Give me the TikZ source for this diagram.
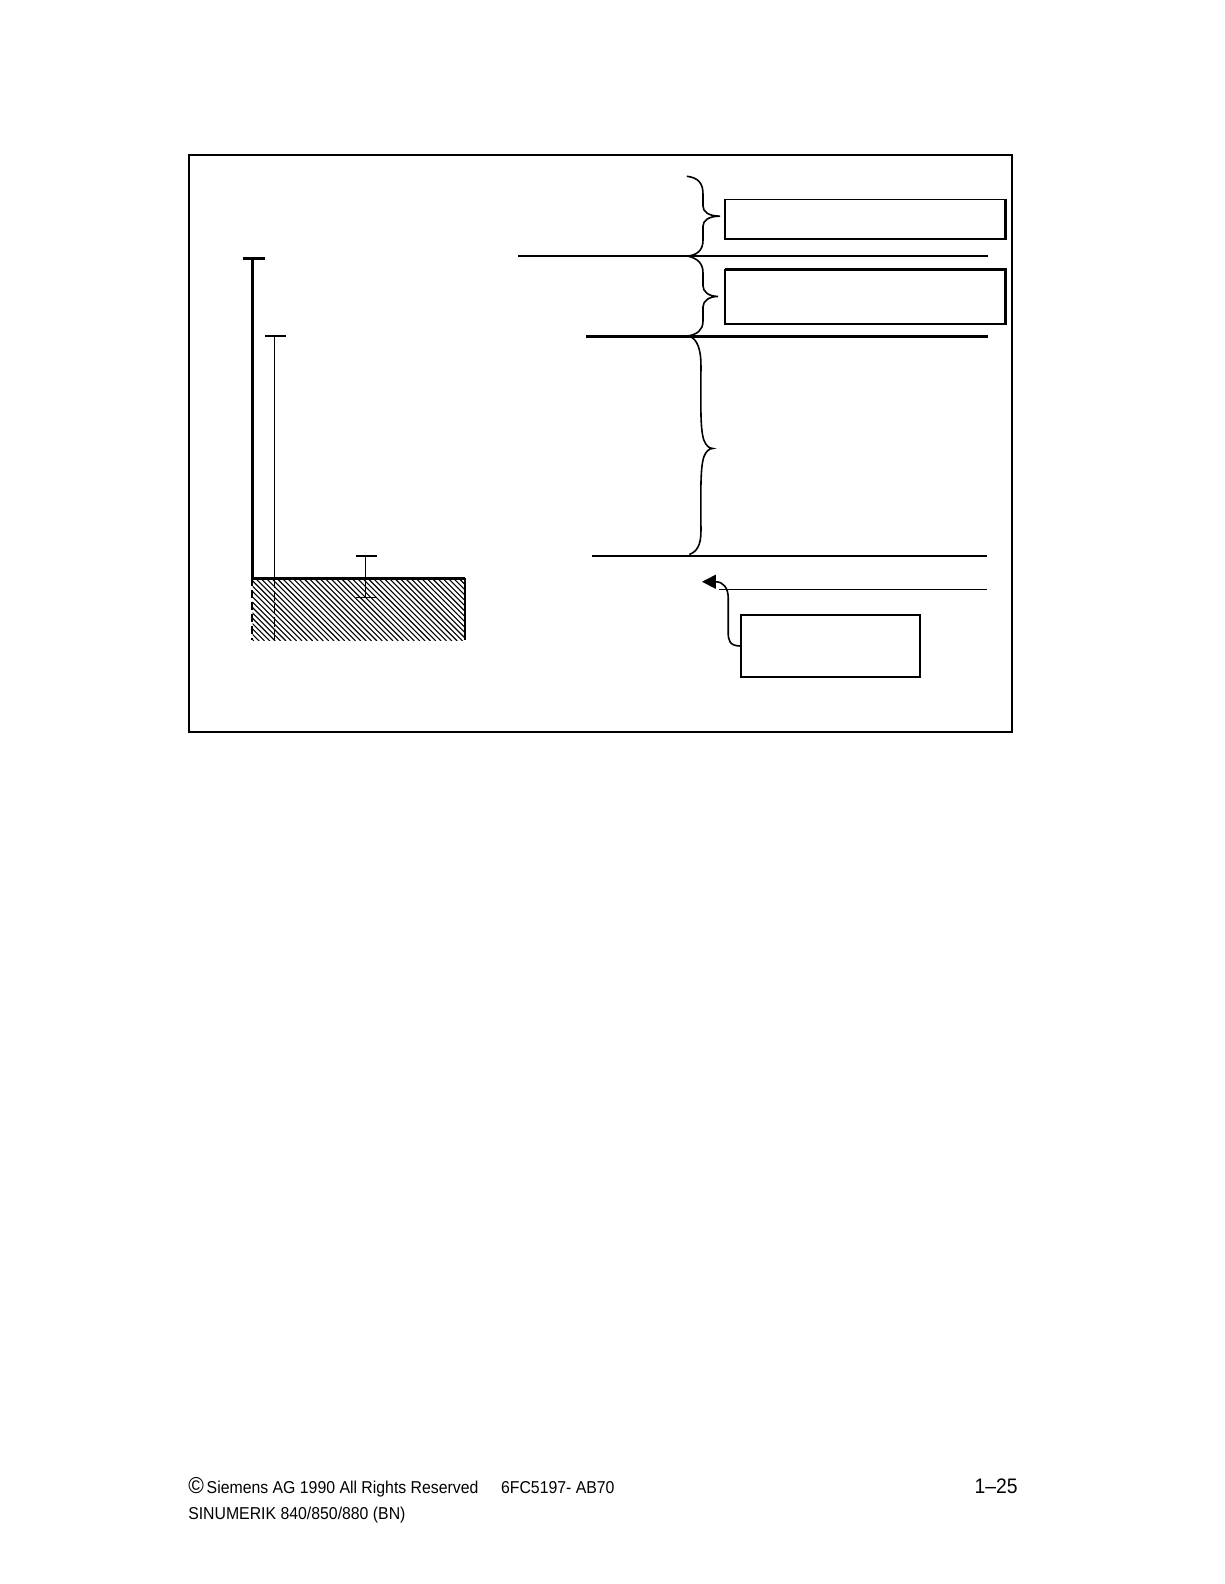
\documentclass[tikz,border=0pt]{standalone}
\usepackage{fontspec}
\setmainfont{Liberation Sans}
\newfontfamily\footfont[FakeStretch=0.92]{Liberation Sans}
\usetikzlibrary{arrows.meta}
\begin{document}
\begin{tikzpicture}[x=0.505pt,y=-0.505pt,
  frameline/.style={draw,line width=1pt,inner sep=0pt,outer sep=0pt,rectangle},
  thinline/.style={line width=0.7pt},
  thickline/.style={line width=1.5pt},
  box/.style={draw,line width=0.9pt,inner sep=0pt,outer sep=0pt,rectangle},
  bracestyle/.style={line width=0.8pt},
  hatchline/.style={line width=0.55pt},
  foot/.style={inner sep=0pt,font=\footfont\fontsize{8.6}{10}\selectfont}]
\useasboundingbox[fill=white] (0,0) rectangle (1212,1568.3);

% outer frame
\node[frameline,minimum width=411.6pt,minimum height=288.6pt] (frame) at (594.5,439.3) {};

% horizontal level lines
\coordinate (l1a) at (513,253.5); \coordinate (l1b) at (978,253.5);
\coordinate (l2a) at (580,332.7); \coordinate (l2b) at (978,332.7);
\coordinate (l3a) at (586,550.5); \coordinate (l3b) at (977,550.5);
\coordinate (l4a) at (712,583.5); \coordinate (l4b) at (977.5,583.5);
\draw[thinline] (l1a) -- (l1b);
\draw[thickline] (l2a) -- (l2b);
\draw[thinline] (l3a) -- (l3b);
\draw[thinline] (l4a) -- (l4b);

% boxes
\node[box,minimum width=140.3pt,minimum height=19.6pt] (b1) at (856.75,216.85) {};
\node[box,minimum width=140.3pt,minimum height=27pt] (b2) at (856.75,294.05) {};
\node[box,minimum width=89.6pt,minimum height=31pt] (b3) at (822.45,639.65) {};
\draw[line width=1.5pt] (b1.north east) -- (b1.south east);
\draw[line width=1.5pt] (b2.north west) -- (b2.north east) -- (b2.south east);
\draw[line width=1.4pt] (b3.north west) -- (b3.north east);

% braces
\draw[bracestyle] (680,174.5) .. controls (692,176) and (696,182) .. (696,192) -- (696,204)
  .. controls (696,210) and (702,214) .. (713,214)
  .. controls (702,214) and (696,218) .. (696,224) -- (696,238)
  .. controls (696,248) and (690,252.5) .. (681,253.5);
\draw[bracestyle] (681,253.5) .. controls (691,256) and (696,261) .. (696,270) -- (696,283)
  .. controls (696,289) and (702,293.5) .. (711,293.5)
  .. controls (702,293.5) and (696,298) .. (696,304) -- (696,318)
  .. controls (696,327) and (690,331) .. (681,332.7);
\draw[bracestyle] (683,333) .. controls (690,336) and (694,345) .. (694,362)
  .. controls (694,400) and (693,425) .. (697,436)
  .. controls (699,441) and (702,444) .. (705.6,444)
  .. controls (702,444) and (699,447) .. (697,452)
  .. controls (693,463) and (694,490) .. (694,526)
  .. controls (694,540) and (690,546) .. (682.5,549);

% arrow from lower box
\coordinate (tip) at (695,576);
\draw[line width=0.8pt,-{Triangle[length=7pt,width=7pt]}] (b3.west)
  .. controls (722,639.6) and (721,634) .. (721,626) -- (721,592)
  .. controls (721,582) and (716,576) .. (tip);

% hatched workpiece
\begin{scope}
\clip (250,572.6) rectangle (460.4,633.7);
\foreach \x in {184,189.3,...,462} {
  \draw[hatchline] (\x,572.6) -- ++(62,62);
}
\end{scope}
\coordinate (wtl) at (250,572.6); \coordinate (wtr) at (460.4,572.6);
\coordinate (wbr) at (460.4,633.7); \coordinate (wbl) at (249.5,633.7);
\draw[thickline] (wtl) -- (wtr);
\draw[line width=1.3pt] (wtr) -- (wbr);
\draw[line width=1pt,dash pattern=on 4pt off 2pt] (249.5,572.6) -- (wbl);
\draw[line width=0.7pt,dash pattern=on 5pt off 1.5pt] (271.6,572.6) -- (271.6,633.7);

% vertical dimension lines
\coordinate (v1t) at (250,255.5); \coordinate (v1b) at (250,572.6);
\draw[thickline] (v1t) -- (v1b);
\draw[thickline] (241,255.5) -- (262,255.5);
\coordinate (v2t) at (271.6,332.7); \coordinate (v2b) at (271.6,572.6);
\draw[thinline] (v2t) -- (v2b);
\draw[line width=1.2pt] (262.7,332.7) -- (283.2,332.7);
\coordinate (v3t) at (362,550.5); \coordinate (v3b) at (362,591.4);
\draw[line width=0.8pt] (v3t) -- (v3b);
\draw[line width=0.8pt] (352.5,550.5) -- (373,550.5);
\draw[line width=0.8pt] (352.5,591.4) -- (373,591.4);

% footer
\node[foot,anchor=base west] (copy) at (186,1479) {{\fontsize{11.5}{12}\selectfont ©}\,Siemens AG 1990 All Rights Reserved};
\node[foot,anchor=base west] (order) at (495.7,1479) {6FC5197- AB70};
\node[foot,anchor=base east,font=\footfont\fontsize{10.5}{12}\selectfont] (page) at (1008,1479) {1–25};
\node[foot,anchor=base west] (sinu) at (186,1504) {SINUMERIK 840/850/880 (BN)};
\end{tikzpicture}
\end{document}
